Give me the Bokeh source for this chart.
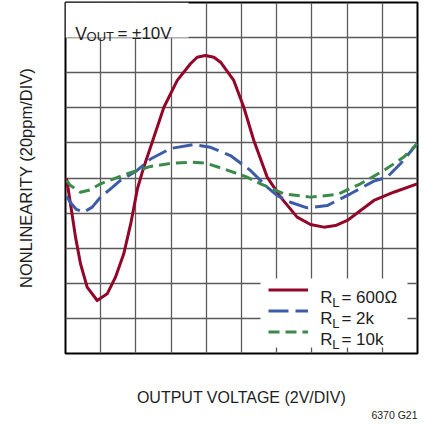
from bokeh.plotting import figure
from bokeh.models import Range1d, FixedTicker, Label, BoxAnnotation, Legend, LegendItem, Title
from bokeh.embed import file_html
from bokeh.resources import INLINE

# ---- data (output voltage in V, nonlinearity in ppm) ----
x_600 = [-9.94, -9.72, -9.43, -9.15, -8.77, -8.20, -7.63, -7.16, -6.69, -6.28, -5.91, -5.54,
         -5.17, -4.41, -3.65, -2.90, -2.52, -2.05, -1.57, -1.19, -0.44, 0.13, 0.70, 1.46,
         2.22, 3.16, 3.92, 4.68, 5.34, 6.01, 7.52, 8.65, 9.98]
y_600 = [-0.3, -14.5, -33.7, -48.7, -62.2, -69.8, -66.0, -56.5, -43.2, -25.4, -6.0, 6.6,
         17.5, 40.3, 55.6, 65.1, 68.8, 69.8, 68.8, 66.0, 55.6, 40.3, 21.4, 0.5,
         -10.9, -22.3, -26.5, -28.0, -27.1, -24.2, -12.8, -8.1, -3.3]

x_2k = [-9.94, -9.72, -9.38, -8.96, -8.48, -8.01, -7.44, -6.88, -5.93, -5.17, -4.03, -2.71,
        -1.76, -0.63, 0.51, 1.46, 2.03, 2.78, 3.73, 4.87, 6.19, 7.52, 8.28, 9.03, 9.98]
y_2k = [-10.5, -14.0, -17.9, -19.5, -16.6, -10.9, -6.2, -1.4, 4.3, 10.8, 16.8, 19.1,
        17.5, 12.8, 4.3, -5.2, -10.0, -13.8, -17.0, -15.7, -9.0, -1.8, 0.5, 8.1, 19.5]

x_10k = [-9.94, -9.72, -9.15, -8.58, -8.01, -6.49, -5.17, -4.03, -2.90, -2.05, -1.01, 0.32,
         1.08, 2.40, 3.92, 5.44, 6.76, 8.09, 9.22, 9.98]
y_10k = [-1.4, -4.3, -8.1, -6.7, -3.3, 2.4, 6.6, 8.3, 9.0, 8.5, 5.2, 0.5,
         -3.3, -9.0, -10.9, -9.4, -3.3, 4.3, 11.9, 19.5]

x_grid = [-8, -6, -4, -2, 0, 2, 4, 6, 8]
y_grid = [-80, -60, -40, -20, 0, 20, 40, 60, 80]

RED = "#93062a"
BLUE = "#3d5ca8"
GREEN = "#3b8a4a"
FONT = "Liberation Sans"
TXT = "#1e1e1e"

p = figure(width=424, height=425, output_backend="svg", toolbar_location=None,
           x_range=Range1d(-10, 10), y_range=Range1d(-100, 100),
           min_border_left=65, min_border_right=7, min_border_top=2, min_border_bottom=72)
p.background_fill_color = "white"
p.border_fill_color = "white"
p.outline_line_color = "black"
p.outline_line_width = 2

for ax in (p.xaxis[0], p.yaxis[0]):
    ax.ticker = FixedTicker(ticks=[])
    ax.axis_line_color = None
    ax.major_tick_line_color = None
    ax.minor_tick_line_color = None
    ax.major_tick_out = 0
    ax.major_tick_in = 0
    ax.minor_tick_out = 0
    ax.major_label_standoff = 0
    ax.major_label_text_font_size = "0px"
    ax.axis_label_text_font = FONT
    ax.axis_label_text_font_style = "normal"
    ax.axis_label_text_color = TXT

p.xaxis.axis_label = "OUTPUT VOLTAGE (2V/DIV)"
p.xaxis.axis_label_text_font_size = "16px"
p.xaxis.axis_label_standoff = 35
p.yaxis.axis_label = "NONLINEARITY (20ppm/DIV)"
p.yaxis.axis_label_text_font_size = "16.5px"
p.yaxis.axis_label_standoff = 31

p.xgrid.ticker = FixedTicker(ticks=x_grid)
p.ygrid.ticker = FixedTicker(ticks=y_grid)
for g in (p.xgrid, p.ygrid):
    g.grid_line_color = "#5a5a5a"
    g.grid_line_width = 1.3
    g.grid_line_alpha = 1.0

# white boxes behind texts
p.add_layout(BoxAnnotation(left=-10, right=-3.01, top=100, bottom=80.06,
                           fill_color="white", fill_alpha=1.0, line_color=None, level="underlay"))
p.add_layout(BoxAnnotation(left=1.08, right=9.43, top=-57.3, bottom=-96.6,
                           fill_color="white", fill_alpha=1.0, line_color=None, level="underlay"))

r1 = p.line(x_600, y_600, line_color=RED, line_width=3, line_join="round")
r2 = p.line(x_2k, y_2k, line_color=BLUE, line_width=3, line_dash="20 7", line_join="round")
r3 = p.line(x_10k, y_10k, line_color=GREEN, line_width=3, line_dash="11 6", line_join="round")

leg = Legend(items=[LegendItem(label=" ", renderers=[r1]),
                    LegendItem(label=" ", renderers=[r2]),
                    LegendItem(label=" ", renderers=[r3])],
             location=(203, 11), glyph_width=40, glyph_height=21, label_height=21,
             label_width=1, label_standoff=0, spacing=0, padding=0, margin=0,
             label_text_font_size="2px", border_line_color=None,
             background_fill_alpha=0)
p.add_layout(leg, "center")

def lab(x, y, text, size):
    p.add_layout(Label(x=x, y=y, text=text, text_font=FONT, text_font_size=size,
                       text_align="left", text_baseline="alphabetic", text_color=TXT))

# VOUT label
lab(-9.45, 82.2, "V", "17.5px")
lab(-8.80, 80.9, "OUT", "13px")
lab(-7.05, 82.2, "= \u00b110V", "17px")

# legend texts
legend_texts = ["= 600\u03a9", "= 2k", "= 10k"]
rows_base = [-67.9, -79.9, -92.0]
for t, yb in zip(legend_texts, rows_base):
    lab(4.47, yb, "R", "17px")
    lab(5.16, yb - 2.9, "L", "13px")
    lab(5.68, yb, t, "17px")

p.add_layout(Title(text="6370 G21", align="right", vertical_align="top", text_font=FONT,
                   text_font_size="10.5px", text_font_style="normal", text_color=TXT,
                   standoff=0, offset=0), "below")

open("out.html", "w").write(file_html(p, INLINE))
